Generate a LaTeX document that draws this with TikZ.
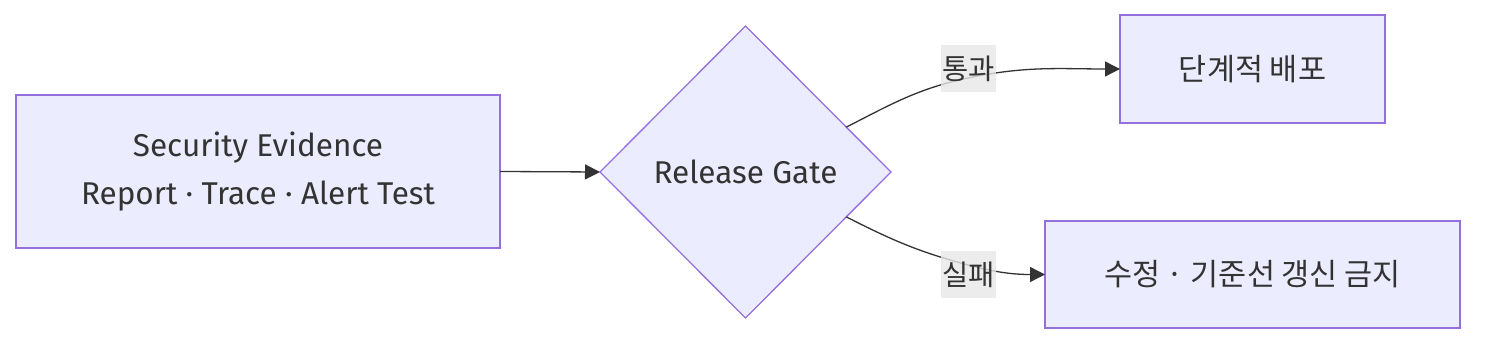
\documentclass[tikz,border=0pt]{standalone}
\usepackage{fontspec}
\setmainfont{Fira Sans}
\newfontfamily\kor{Noto Sans CJK KR}
\usetikzlibrary{arrows.meta,shapes.geometric}
\definecolor{caja}{HTML}{ECECFF}
\definecolor{borde}{HTML}{9370DB}
\definecolor{tinta}{HTML}{333333}
\definecolor{etiq}{HTML}{E8E8E8}
\begin{document}
\begin{tikzpicture}[x=1pt,y=1pt,
 box/.style={draw=borde,line width=1.3pt,fill=caja,text=tinta,align=center,font=\fontsize{31.5}{48}\selectfont,inner sep=0pt,outer sep=0pt},
 gatebox/.style={box,diamond,aspect=1,minimum width=291pt,minimum height=292pt},
 lbl/.style={fill=etiq,fill opacity=0.8,text opacity=1,text=tinta,font=\kor\fontsize{28.5}{30}\selectfont,minimum width=55pt,minimum height=47pt,inner sep=0pt},
 flow/.style={draw=tinta,line width=1.3pt,-{Triangle[length=15pt,width=15pt]}}]
\useasboundingbox (0,0) rectangle (1492,348);
\fill[white] (0,0) rectangle (1492,348);
\node[box,minimum width=484pt,minimum height=153pt] (evid) at (258,176.5) {Security Evidence\\Report · Trace · Alert Test};
\node[gatebox] (gate) at (745.5,176) {Release Gate};
\node[box,font=\kor\fontsize{30.5}{48}\selectfont,minimum width=265pt,minimum height=108pt] (deploy) at (1252.5,279) {단계적 배포};
\node[box,font=\kor\fontsize{30.5}{48}\selectfont,minimum width=415pt,minimum height=107pt] (fix) at (1252.5,73.5) {수정 · 기준선 갱신 금지};
\coordinate (okpt) at (968,270); \coordinate (failpt) at (968,83);
\draw[flow] (evid.east) -- (gate.west);
\draw[flow] (gate.24) to[out=27,in=192] (okpt) to[out=12,in=180] (deploy.west);
\draw[flow] (gate.-24) to[out=-27,in=165] (failpt) to[out=-15,in=180] (fix.west);
\node[lbl] (ok) at (968.5,279.5) {통과};
\node[lbl] (fail) at (968.5,73.5) {실패};
\end{tikzpicture}
\end{document}
